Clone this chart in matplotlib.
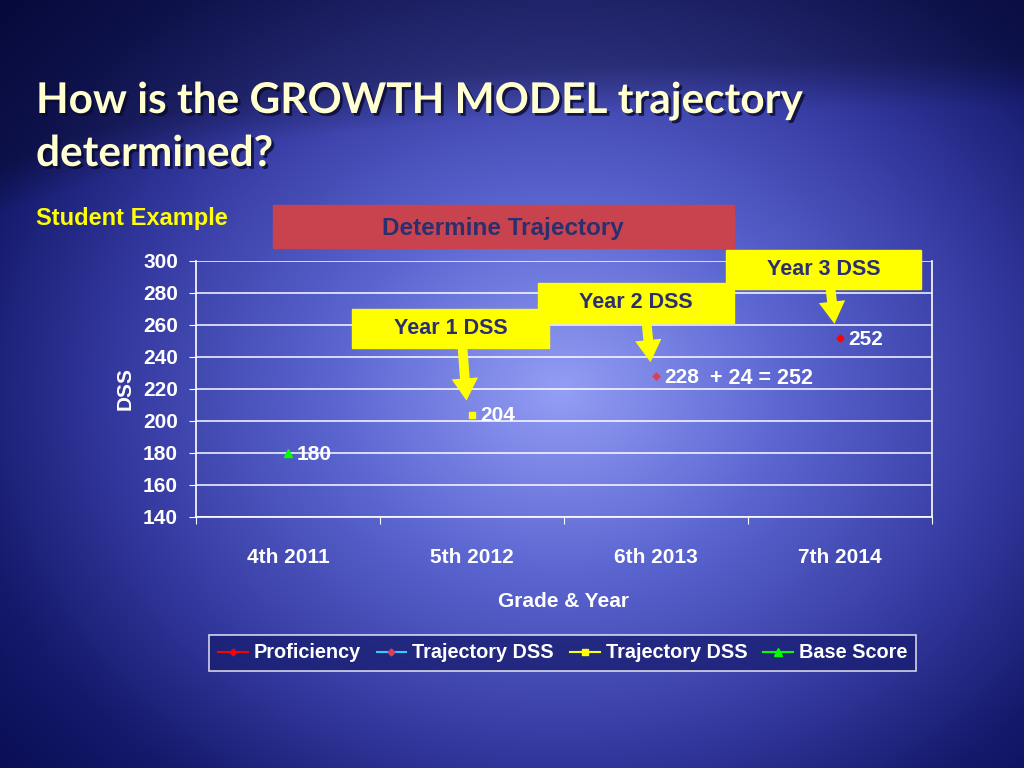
import matplotlib.pyplot as plt
import matplotlib.patheffects as pe
import numpy as np
from matplotlib.patches import Rectangle

plt.rcParams['font.family'] = ['Liberation Sans', 'DejaVu Sans']

# data
CATEGORIES = ['4th 2011', '5th 2012', '6th 2013', '7th 2014']
PROFICIENCY = [np.nan, np.nan, np.nan, 252]
TRAJ_DSS_2 = [np.nan, np.nan, 228, np.nan]
TRAJ_DSS_1 = [np.nan, 204, np.nan, np.nan]
BASE_SCORE = [180, np.nan, np.nan, np.nan]
Y_TICKS = np.arange(140, 301, 20)

CALLOUTS = [
    # (label, category index, value, box in image pixels x0, y0, x1, y1)
    ('Year 1 DSS', 1, 204, (352, 309, 549, 348)),
    ('Year 2 DSS', 2, 228, (538, 283, 734, 323)),
    ('Year 3 DSS', 3, 252, (726, 250, 921, 289)),
]

W, H = 1024, 768
fig = plt.figure(figsize=(W / 100, H / 100), dpi=100)

# background: blue radial glow, dark corners, darker band behind the title
yy, xx = np.mgrid[0:H, 0:W]
r = np.sqrt(((xx - 560) / 640.0) ** 2 + ((yy - 390) / 520.0) ** 2)
stops = [0.0, 0.35, 0.7, 0.95, 1.25]
cols = np.array([[0.58, 0.62, 0.96],
                 [0.36, 0.40, 0.82],
                 [0.20, 0.22, 0.62],
                 [0.08, 0.10, 0.42],
                 [0.01, 0.03, 0.28]])
img = np.stack([np.interp(r, stops, cols[:, k]) for k in range(3)], axis=-1)
curve = 215 - 110 * (1 - np.exp(-xx / 250.0))
band = np.clip((curve - yy) / 50.0, 0, 1)[..., None]
img = img * (1 - 0.3 * band)
bg = fig.add_axes([0, 0, 1, 1], zorder=-10)
bg.imshow(img, extent=(0, W, 0, H), aspect='auto')
bg.set_xlim(0, W)
bg.set_ylim(0, H)
bg.axis('off')

# title
shadow = [pe.withSimplePatchShadow(offset=(2, -2), shadow_rgbFace='#0A0A30',
                                   alpha=0.8)]
title_kw = dict(fontsize=30.5, weight='bold', family=['Lato', 'DejaVu Sans'],
                color='#FFFFD0', va='baseline', ha='left', path_effects=shadow)
fig.text(36 / W, 1 - 113 / H, 'How is the GROWTH MODEL trajectory',
         **title_kw)
fig.text(36 / W, 1 - 166 / H, 'determined?', **title_kw)

fig.text(36 / W, 1 - 218 / H, 'Student Example', color='#FFFF00',
         fontsize=17, weight='bold', va='center', ha='left')

fig.patches.append(Rectangle((273 / W, 1 - 248 / H), (734 - 273) / W, 43 / H,
                             transform=fig.transFigure, color='#C9434F',
                             zorder=2))
fig.text(503 / W, 1 - 228 / H, 'Determine Trajectory', color='#2B2F6E',
         fontsize=17.5, weight='bold', ha='center', va='center', zorder=3)

# chart
ax = fig.add_axes([196 / W, 1 - 517 / H, 736 / W, 256 / H])
ax.set_facecolor('none')
x = np.arange(len(CATEGORIES)) + 0.5
ax.plot(x, PROFICIENCY, color='#FF0000', marker='D', markersize=3.5,
        label='Proficiency')
ax.plot(x, TRAJ_DSS_2, color='#33CCFF', marker='D', markersize=3.5,
        markerfacecolor='#D8405A', markeredgecolor='#D8405A',
        label='Trajectory DSS')
ax.plot(x, TRAJ_DSS_1, color='#FFFF00', marker='s', markersize=4.5,
        label='Trajectory DSS')
ax.plot(x, BASE_SCORE, color='#00FF00', marker='^', markersize=5.5,
        label='Base Score')

for series in (PROFICIENCY, TRAJ_DSS_2, TRAJ_DSS_1, BASE_SCORE):
    for xi, v in zip(x, series):
        if not np.isnan(v):
            ax.annotate(f'{v:.0f}', (xi, v), xytext=(6, -1),
                        textcoords='offset points', color='white',
                        fontsize=15, weight='bold', ha='left', va='center')
ax.annotate('+ 24 = 252', (x[2], TRAJ_DSS_2[2]), xytext=(39, -2),
            textcoords='offset points', color='white', fontsize=15.5,
            weight='bold', ha='left', va='center')

ax.set_xlim(0, len(CATEGORIES))
ax.set_ylim(140, 300)
ax.set_yticks(Y_TICKS)
ax.set_xticks(np.arange(len(CATEGORIES) + 1))
ax.set_xticklabels([])
ax.set_xticks(x, minor=True)
ax.set_xticklabels(CATEGORIES, minor=True)
ax.tick_params(axis='x', which='minor', length=0, pad=22)
ax.tick_params(axis='x', which='major', length=5, color='white',
               direction='out')
ax.tick_params(axis='y', length=5, color='white', direction='out', pad=8)
for lab in ax.get_xticklabels(minor=True) + ax.get_yticklabels():
    lab.set_color('white')
    lab.set_fontsize(15)
    lab.set_fontweight('bold')
ax.grid(axis='y', color='white', linewidth=1.2, alpha=0.9)
ax.set_axisbelow(True)
for side in ('left', 'bottom', 'right'):
    ax.spines[side].set_color('white')
    ax.spines[side].set_linewidth(1.2)
ax.spines['top'].set_visible(False)
ax.set_xlabel('Grade & Year', color='white', fontsize=15, weight='bold',
              labelpad=18)
ax.set_ylabel('DSS', color='white', fontsize=15, weight='bold', labelpad=6)

leg = ax.legend(loc='center', bbox_to_anchor=(562.5 / W, 1 - 653 / H),
                bbox_transform=fig.transFigure, ncol=4, frameon=True,
                fancybox=False, fontsize=14.3, handlelength=1.5,
                handletextpad=0.3, columnspacing=0.8, borderpad=0.45,
                borderaxespad=0)
leg.get_frame().set_facecolor((0.1, 0.12, 0.45, 0.35))
leg.get_frame().set_edgecolor('white')
leg.get_frame().set_linewidth(1.2)
for txt in leg.get_texts():
    txt.set_color('white')
    txt.set_fontweight('bold')

# yellow callouts with arrows to the points
for label, idx, val, (x0, y0, x1, y1) in CALLOUTS:
    fig.patches.append(Rectangle((x0 / W, 1 - y1 / H), (x1 - x0) / W,
                                 (y1 - y0) / H, transform=fig.transFigure,
                                 color='#FFFF00', zorder=5))
    fig.text((x0 + x1) / 2 / W, 1 - (y0 + y1) / 2 / H, label,
             color='#2B2F6E', fontsize=15.5, weight='bold', ha='center',
             va='center', zorder=6)
    tip = ax.transData.transform((x[idx] - 0.03, val))
    ax.annotate('', xy=(tip[0], tip[1] + 14), xycoords='figure pixels',
                xytext=(tip[0] - 4, H - y1 + 1), textcoords='figure pixels',
                arrowprops=dict(arrowstyle='simple,head_length=1.6,'
                                'head_width=1.9,tail_width=0.7',
                                mutation_scale=10, fc='#FFFF00', ec='none',
                                shrinkA=0, shrinkB=0),
                zorder=5, annotation_clip=False)

fig.savefig('out.png', dpi=100)
